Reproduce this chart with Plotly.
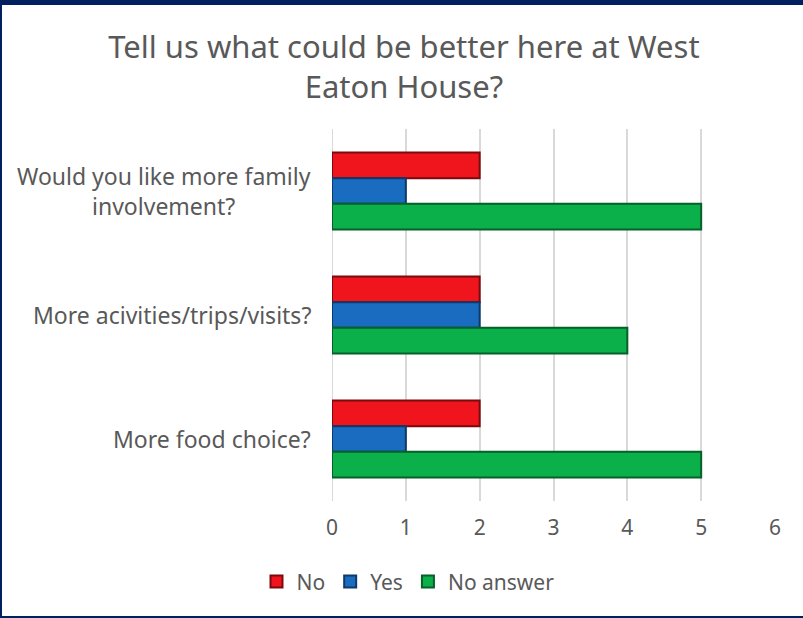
import plotly.graph_objects as go

categories = ["Would you like more family<br>involvement?",
              "More acivities/trips/visits?",
              "More food choice?"]
series_names = ["No", "Yes", "No answer"]
no_vals = [2, 2, 2]
yes_vals = [1, 2, 1]
noanswer_vals = [5, 4, 5]
x_ticks = [0, 1, 2, 3, 4, 5, 6]

colors = ["#F0141C", "#1A6CC0", "#0BB04A"]
edges = ["#7A0A0E", "#0D3A6A", "#06602A"]
values = [no_vals, yes_vals, noanswer_vals]

FONT = "Noto Sans"
GRAY = "#595959"

fig = go.Figure()
for name, vals, c, e in zip(series_names, values, colors, edges):
    fig.add_trace(go.Bar(
        y=categories, x=vals, name=name, orientation="h",
        marker=dict(color=c, line=dict(color=e, width=2)),
    ))

annotations = []
for cat in categories:
    annotations.append(dict(
        x=0, xref="paper", y=cat, yref="y", text=cat, showarrow=False,
        xanchor="right", align="center", xshift=-19,
        font=dict(family=FONT, size=23, color=GRAY)))

fig.update_layout(
    width=803, height=618,
    margin=dict(l=332, r=28, t=129, b=117),
    paper_bgcolor="white", plot_bgcolor="white",
    barmode="group", bargap=0.38, bargroupgap=0,
    title=dict(text="Tell us what could be better here at West<br>Eaton House?",
               x=0.503, xanchor="center", xref="container",
               y=1 - 58/618, yanchor="middle", yref="container",
               font=dict(family=FONT, size=31, color=GRAY)),
    xaxis=dict(range=[0, 6], tickvals=x_ticks, showgrid=True,
               gridcolor="#D9D9D9", gridwidth=2, zeroline=False,
               showline=False, ticks="", ticklabelstandoff=12,
               tickfont=dict(family=FONT, size=21, color=GRAY)),
    yaxis=dict(autorange="reversed", showticklabels=False, showgrid=False,
               showline=False, ticks=""),
    showlegend=True,
    legend=dict(orientation="h", x=(408-332)/443, xanchor="center",
                y=-0.162, yanchor="top",
                font=dict(family=FONT, size=21, color=GRAY),
                itemwidth=30, tracegroupgap=0),
    annotations=annotations,
    shapes=[
        dict(type="rect", xref="paper", yref="paper",
             x0=-332/443, x1=(443+28)/443, y0=1+124/372, y1=1+129/372,
             fillcolor="#002060", line=dict(width=0), layer="above"),
        dict(type="rect", xref="paper", yref="paper",
             x0=-332/443, x1=-330/443, y0=-117/372, y1=1+129/372,
             fillcolor="#002060", line=dict(width=0), layer="above"),
        dict(type="rect", xref="paper", yref="paper",
             x0=-332/443, x1=(443+28)/443, y0=-117/372, y1=-115/372,
             fillcolor="#002060", line=dict(width=0), layer="above"),
    ],
)
fig.add_shape(type="line", xref="x", yref="paper", x0=0, x1=0, y0=0, y1=1,
              line=dict(color="#D9D9D9", width=2), layer="below")

fig.write_html("out.html")
